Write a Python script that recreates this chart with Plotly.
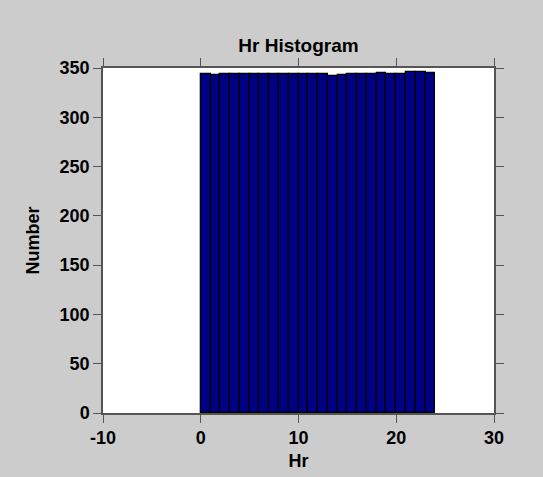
import plotly.graph_objects as go

hour_bins = list(range(24))
counts = [344, 343, 344, 344, 344, 344, 344, 344, 344, 344, 344, 344, 344,
          342, 343, 344, 344, 344, 345, 344, 344, 346, 346, 345]
x_ticks = [-10, 0, 10, 20, 30]
x_tick_text = ["-10", "0", "10", "20", "30"]
y_ticks = [0, 50, 100, 150, 200, 250, 300, 350]

centers = [b + 0.5 for b in hour_bins]

FAM = "Liberation Sans, Arial, sans-serif"

fig = go.Figure(go.Bar(
    x=centers, y=counts, width=1,
    marker=dict(color="#000084", line=dict(color="black", width=1.3)),
))

axis_common = dict(
    showline=True, linecolor="#555555", linewidth=1.5, mirror="ticks",
    ticks="outside", ticklen=8, tickwidth=1.3, tickcolor="#555555",
    showgrid=False, zeroline=False, automargin=False,
    tickfont=dict(family=FAM, size=18, color="black", weight="bold"),
)

fig.update_layout(
    width=543, height=477,
    margin=dict(l=103, r=49, t=68, b=64),
    paper_bgcolor="#cccccc", plot_bgcolor="white",
    font=dict(family=FAM, size=18, color="black"),
    title=dict(text="<b>Hr Histogram</b>", x=0.5, xref="paper", xanchor="center",
               y=1 - 45 / 477, yref="container", yanchor="middle",
               font=dict(family=FAM, size=19, color="black")),
    xaxis=dict(range=[-10, 30], tickvals=x_ticks, ticktext=x_tick_text,
               title=dict(text="<b>Hr</b>", standoff=7,
                          font=dict(family=FAM, size=18)),
               **axis_common),
    yaxis=dict(range=[0, 350], tickvals=y_ticks,
               title=dict(text="<b>Number</b>", standoff=15,
                          font=dict(family=FAM, size=18)),
               **axis_common),
    showlegend=False,
    bargap=0,
)

fig.write_html("out.html")
